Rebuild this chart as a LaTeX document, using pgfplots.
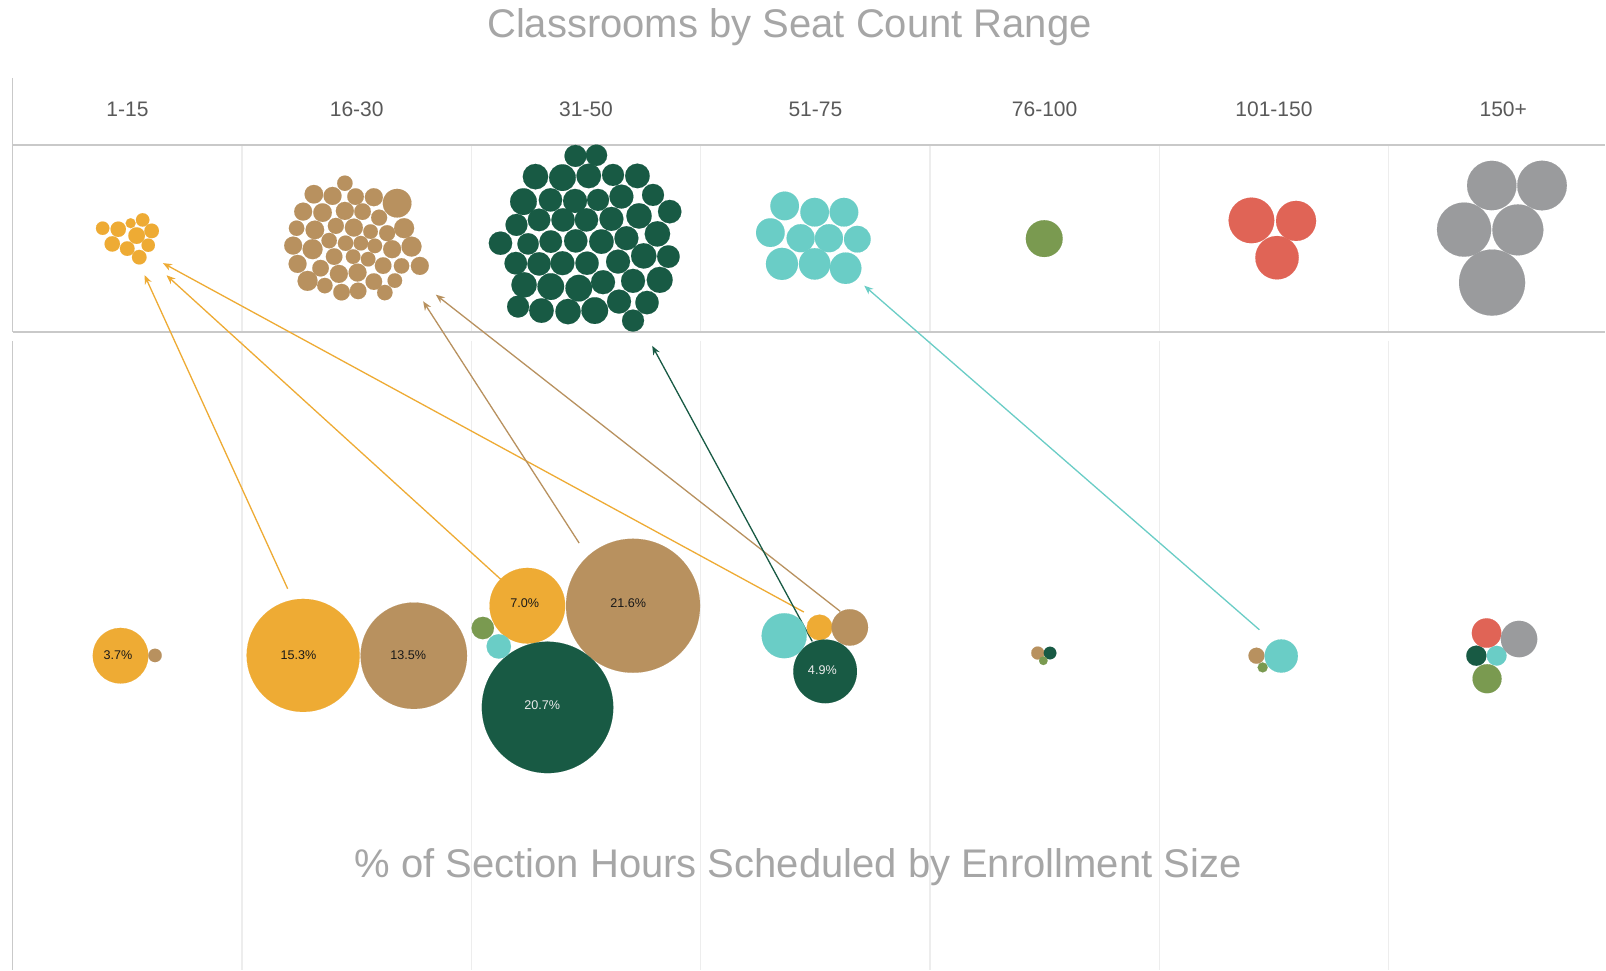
\documentclass[border=0pt]{standalone}
\usepackage{pgfplots}
\pgfplotsset{compat=1.18}
\usepackage{fontspec}
\setmainfont{Liberation Sans}
\usetikzlibrary{arrows.meta}
\definecolor{orng}{HTML}{EEAB34}
\definecolor{tan}{HTML}{B8915F}
\definecolor{dgrn}{HTML}{185A44}
\definecolor{teal}{HTML}{6ACDC6}
\definecolor{olive}{HTML}{7A9A50}
\definecolor{red1}{HTML}{E06456}
\definecolor{gry}{HTML}{9A9B9D}
\definecolor{ttl}{HTML}{A6A6A6}
\definecolor{lbl}{HTML}{595959}
\definecolor{pline}{HTML}{C9C9C9}
\definecolor{gline}{HTML}{EDEDED}
\pgfplotsset{
  bub/.style={scatter, only marks, mark=*, point meta=\thisrow{r},
    scatter/use mapped color={draw=#1, fill=#1, line width=0.05pt},
    visualization depends on={0.5*\thisrow{r}\as\rr},
    scatter/@pre marker code/.append style={/tikz/mark size=\rr}},
  arr/.style={#1, line width=0.65pt, -{Stealth[length=4.5pt,width=3.6pt]}},
  blab/.style={only marks, mark=none, point meta=explicit symbolic,
    nodes near coords={\pgfplotspointmeta\%},
    nodes near coords style={anchor=center, inner sep=0pt,
      font=\fontsize{6.3}{7}\selectfont, text=#1}},
}
\begin{document}
\begin{tikzpicture}
\path[fill=white] (0,0) rectangle (803pt,485pt);
\begin{axis}[x=0.5pt, y=0.5pt, xmin=0, xmax=1606, ymin=0, ymax=970,
  y dir=reverse, axis lines=none, clip=false]
% grid lines
\addplot[gline, line width=0.6pt] coordinates {(242.2,146) (242.2,331)};
\addplot[gline, line width=0.6pt] coordinates {(471.6,146) (471.6,331)};
\addplot[gline, line width=0.6pt] coordinates {(701,146) (701,331)};
\addplot[gline, line width=0.6pt] coordinates {(930.4,146) (930.4,331)};
\addplot[gline, line width=0.6pt] coordinates {(1159.8,146) (1159.8,331)};
\addplot[gline, line width=0.6pt] coordinates {(1389.2,146) (1389.2,331)};
\addplot[gline, line width=0.6pt] coordinates {(242.2,341) (242.2,970)};
\addplot[gline, line width=0.6pt] coordinates {(471.6,341) (471.6,970)};
\addplot[gline, line width=0.6pt] coordinates {(701,341) (701,970)};
\addplot[gline, line width=0.6pt] coordinates {(930.4,341) (930.4,970)};
\addplot[gline, line width=0.6pt] coordinates {(1159.8,341) (1159.8,970)};
\addplot[gline, line width=0.6pt] coordinates {(1389.2,341) (1389.2,970)};
% panel lines
\addplot[pline, line width=0.7pt] coordinates {(12.75,145) (1606,145)};
\addplot[pline, line width=0.7pt] coordinates {(12.75,332) (1606,332)};
\addplot[pline, line width=0.6pt] coordinates {(12.75,78) (12.75,332)};
\addplot[pline, line width=0.6pt] coordinates {(12.75,341) (12.75,970)};
% ---- top panel: classrooms ----
\addplot[bub=orng] table {
x y r
102.7 228.3 6.7
118.3 229.3 7.7
130.7 223.3 5
142.7 220 6.7
151.7 231 7.3
136.7 235.7 8.3
112.3 244 7.7
127.3 248.7 7.3
148.3 245.3 6.7
139.3 257.3 7.3
};
\addplot[bub=tan] table {
x y r
345 183.3 7.7
314 194.3 9.3
332.7 196 9
355.7 196.7 8.3
374 197.3 9
397.3 203.3 14.3
303.3 211.7 9
322.7 212.7 9.3
345 211 9
362.7 211.7 8.3
379.3 217.7 8
296.7 228.3 7.7
315 230 9.3
336 226 8
354 227.7 9
370.7 231.7 7.3
387.3 233.3 8
404.3 228.3 10
293.3 245.7 9
312.7 249.3 10
329.3 240.7 7.7
345.7 243.3 7.7
361 243.3 7.3
375 246 7.3
392.3 249.3 9
411.7 246.7 10
297.7 264 9
320.7 268.3 8.3
334.3 256.7 8.3
353.3 256.7 7.3
368.3 259.3 7.3
383.3 265.7 8.3
401.7 266 7.7
420 266 9
307.7 281 10
325 285.7 7.7
339 274 9
357.7 272.7 9
374 281.7 8.3
395 280.7 7.3
341.7 292.3 8.3
358.3 291 8.3
385 292.7 7.7
};
\addplot[bub=dgrn] table {
x y r
575.7 156 11
596.7 155.3 10.7
535.7 176.7 12.7
562.7 177.7 13.3
589 176 12.3
613.3 175 11
637.7 176 12.3
523.7 201.7 13.3
550.7 200 11.7
575.3 201 12
598.3 200 11
621.7 196.7 12
653.3 195 11
670 211.7 11.7
516.7 225 11
539.3 220 11.3
563.3 220 11.7
586.7 220 11.7
611.7 219 12
639.3 216 12.7
657.7 234 12.7
500.7 243.3 11.7
528.3 244 10.7
551 241.7 11.3
576 241 11.7
601.7 241.7 12.3
626.7 238.3 12
516 263.3 11.3
539.3 264 11.7
562.7 263.3 12
587.3 263.3 11.7
618.3 261.7 12
644 256 12.7
668.7 256.7 11.3
524.3 285 12.7
551 286.7 13.3
579 288.3 13.3
603.3 282.3 12
633.3 281 12
660 280 13
518.3 306.7 11
541.7 310.7 12.3
568.3 311.7 12.7
595 310.7 13.3
619.3 301.7 12
647.3 302.7 11.7
633.3 320.7 11
};
\addplot[bub=teal] table {
x y r
785 206 14.3
815 212.3 14.3
844.3 212.3 14.3
770.7 232.7 14.3
801 238.3 14
829.3 238.3 14
857.7 239.3 13.3
782.3 264 16
815 264 15.7
846 268.3 15.7
};
\addplot[bub=olive] table {
x y r
1044.7 238.7 18.4
};
\addplot[bub=red1] table {
x y r
1252 220.5 22.8
1296.6 221 20
1277.6 257.8 21.7
};
\addplot[bub=gry] table {
x y r
1492.4 185.6 24.7
1542.7 185.6 24.8
1464.7 229.7 27.1
1518.5 230 25.5
1492.7 282.7 33
};
% ---- bottom panel: section hours ----
\addplot[bub=orng] table {
x y r
120.6 656 27.8
303.3 655.7 56.5
527.6 606 37.8
819.9 627.7 12.8
};
\addplot[bub=tan] table {
x y r
155.1 655.7 6.7
414 656 53.2
633.3 606 67
850.2 627.7 18.2
1038.2 653.3 6.5
1257 656 8
};
\addplot[bub=dgrn] table {
x y r
547.8 707.7 65.7
825.5 671.7 31.8
1050.5 653.3 6.3
1477 656 10.1
};
\addplot[bub=teal] table {
x y r
499 646.7 12.2
784.5 636 22.5
1281.8 656.3 16.6
1497.3 656 9.9
};
\addplot[bub=olive] table {
x y r
483 628.3 11.2
1043.8 661 4.3
1263.2 667.7 5
1487.7 679 14.5
};
\addplot[bub=red1] table {
x y r
1487.2 633.3 14.7
};
\addplot[bub=gry] table {
x y r
1519.7 639.3 18.2
};
% ---- arrows ----
\addplot[arr=orng] coordinates {(287.8,589) (144.6,275.2)};
\addplot[arr=orng] coordinates {(500.7,579.3) (166.6,275.4)};
\addplot[arr=orng] coordinates {(804.2,612.3) (163,263.2)};
\addplot[arr=tan] coordinates {(579.4,543.3) (423.3,301.4)};
\addplot[arr=tan] coordinates {(840.7,611.7) (436,294.8)};
\addplot[arr=dgrn] coordinates {(812.6,641.7) (652.5,346)};
\addplot[arr=teal] coordinates {(1259.9,630) (864.6,285.8)};
% ---- bubble labels ----
\addplot[blab=black!90] table[meta=t] {
x y t
118 655 3.7
298.5 655 15.3
408.5 655 13.5
525 603.5 7.0
628.5 603.5 21.6
};
\addplot[blab=white!92!black] table[meta=t] {
x y t
542.5 705 20.7
822.7 670 4.9
};
% ---- category labels ----
\node[anchor=base, font=\fontsize{10.5}{12}\selectfont, text=lbl] at (axis cs:127.5,116.3) {1-15};
\node[anchor=base, font=\fontsize{10.5}{12}\selectfont, text=lbl] at (axis cs:356.9,116.3) {16-30};
\node[anchor=base, font=\fontsize{10.5}{12}\selectfont, text=lbl] at (axis cs:586.3,116.3) {31-50};
\node[anchor=base, font=\fontsize{10.5}{12}\selectfont, text=lbl] at (axis cs:815.7,116.3) {51-75};
\node[anchor=base, font=\fontsize{10.5}{12}\selectfont, text=lbl] at (axis cs:1045.1,116.3) {76-100};
\node[anchor=base, font=\fontsize{10.5}{12}\selectfont, text=lbl] at (axis cs:1274.5,116.3) {101-150};
\node[anchor=base, font=\fontsize{10.5}{12}\selectfont, text=lbl] at (axis cs:1503.9,116.3) {150+};
% ---- titles ----
\node[anchor=base, font=\fontsize{20}{24}\selectfont, text=ttl] at (axis cs:789.8,37.3) {Classrooms by Seat Count Range};
\node[anchor=base, font=\fontsize{20}{24}\selectfont, text=ttl] at (axis cs:798.4,878.3) {\% of Section Hours Scheduled by Enrollment Size};
\end{axis}
\end{tikzpicture}
\end{document}
